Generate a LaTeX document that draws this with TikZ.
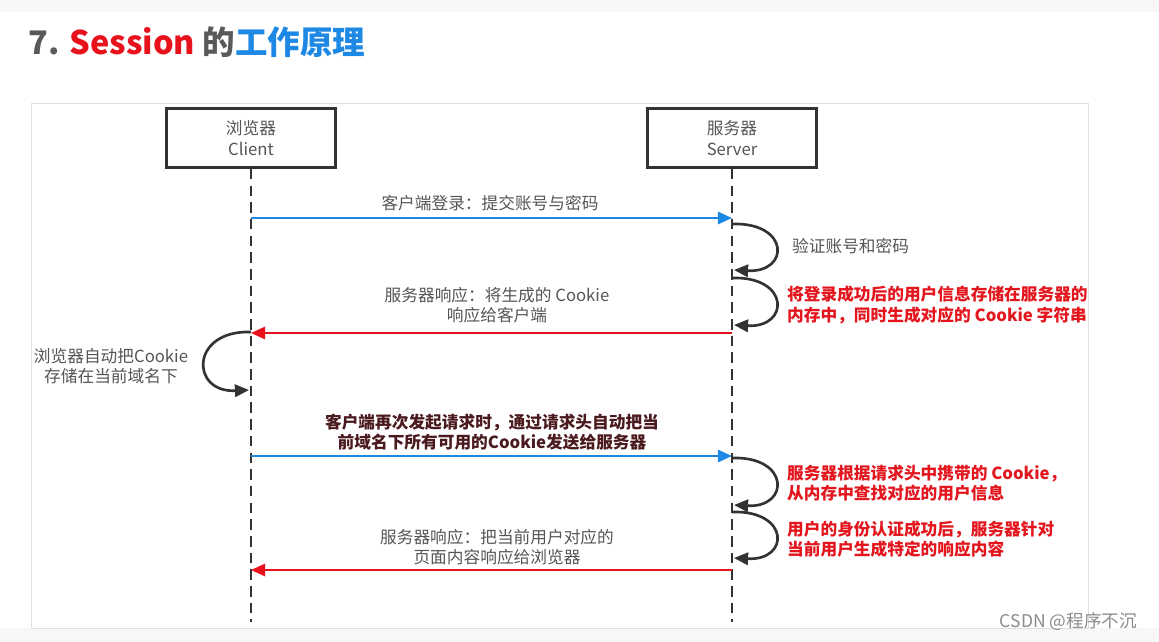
\documentclass[tikz,border=0pt]{standalone}
\usepackage{fontspec}
\setmainfont{Noto Sans CJK SC}
\usetikzlibrary{arrows.meta,positioning,calc}
\definecolor{txtgray}{HTML}{555555}
\definecolor{msgblue}{HTML}{1E88E5}
\definecolor{msgred}{HTML}{E8121C}
\definecolor{notered}{HTML}{E3161E}
\definecolor{darkbrown}{HTML}{4A1A1E}
\definecolor{titlegray}{HTML}{595959}

\begin{document}
\begin{tikzpicture}[x=0.02cm, y=-0.02cm,
    every node/.style={font=\fontsize{9.5}{11.5}\selectfont, text=txtgray},
    actor/.style={draw=black!80, line width=1.5pt, minimum width=3.38cm, minimum height=1.18cm, align=center, fill=white},
    lifeline/.style={line width=1.2pt, black!80, dash pattern=on 6pt off 3.5pt},
    call/.style={line width=1.2pt, msgblue, -{Triangle[length=8pt,width=7pt]}},
    reply/.style={line width=1.2pt, msgred, -{Triangle[length=8pt,width=7pt]}},
    loopback/.style={line width=1.5pt, black!80, -{Triangle[length=8pt,width=7pt]}},
    msg/.style={align=center},
    note/.style={align=left, anchor=west, text=notered, font=\bfseries\fontsize{9.5}{11.5}\selectfont}
  ]
  % Rahmen
  \useasboundingbox (0,0) rectangle (1159,642);
  \fill[black!3] (0,0) rectangle (1159,642);
  \fill[white] (0,12) rectangle (1159,628);
  \draw[black!12, fill=white] (31,103) rectangle (1088,628);

  % Titel
  \node[anchor=west, font=\bfseries\fontsize{18.5}{20}\selectfont] (title) at (22,42)
    {\textcolor{titlegray}{7.} \textcolor{msgred}{Session} \textcolor{titlegray}{的}\textcolor{msgblue}{工作原理}};

  % Teilnehmer
  \node[actor] (client) at (251,138) {浏览器\\Client};
  \node[actor] (server) at (732,138) {服务器\\Server};
  \coordinate (client-end) at (251,622);
  \coordinate (server-end) at (732,622);
  \draw[lifeline] (client.south) -- (client-end);
  \draw[lifeline] (server.south) -- (server-end);

  % Punkte auf den Lebenslinien
  \coordinate (c1) at (251,218);  \coordinate (s1) at (732,218);
  \coordinate (c2) at (251,333);  \coordinate (s2) at (732,333);
  \coordinate (c3) at (251,456);  \coordinate (s3) at (732,456);
  \coordinate (c4) at (251,570);  \coordinate (s4) at (732,570);

  % Nachrichten
  \draw[call] (c1) -- (s1);
  \node[msg] (m1) at (490,203) {客户端登录：提交账号与密码};

  \draw[reply] (s2) -- (c2);
  \node[msg] (m2) at (497,305) {服务器响应：将生成的 Cookie\\响应给客户端};

  \draw[call] (c3) -- (s3);
  \node[msg, text=darkbrown, font=\bfseries\fontsize{9.5}{11.5}\selectfont] (m3) at (492,432)
    {客户端再次发起请求时，通过请求头自动把当\\前域名下所有可用的Cookie发送给服务器};

  \draw[reply] (s4) -- (c4);
  \node[msg] (m4) at (497,547) {服务器响应：把当前用户对应的\\页面内容响应给浏览器};

  % Selbstaufrufe Server
  \foreach \ya/\yb [count=\i] in {224/270, 278/325, 458/505, 512/558} {
    \coordinate (sa\i) at (732,\ya);
    \coordinate (sb\i) at (734,\yb);
    \draw[loopback] (sa\i) .. controls (790,\ya-2) and (790,\yb+3) .. (sb\i);
  }
  \node[anchor=west] (n1) at (786,246) {验证账号和密码};
  \node[note] (n2) at (781,305) {将登录成功后的用户信息存储在服务器的\\内存中，同时生成对应的 Cookie 字符串};
  \node[note] (n3) at (781,483) {服务器根据请求头中携带的 Cookie，\\从内存中查找对应的用户信息};
  \node[note] (n4) at (781,539) {用户的身份认证成功后，服务器针对\\当前用户生成特定的响应内容};

  % Selbstaufruf Client
  \coordinate (ca) at (251,332);
  \coordinate (cb) at (249,390);
  \draw[loopback] (ca) .. controls (190,330) and (190,393) .. (cb);
  \node[msg] (n5) at (111,366) {浏览器自动把Cookie\\存储在当前域名下};

  % Wasserzeichen
  \node[anchor=east, text=black!45, font=\fontsize{10}{12}\selectfont] (mark) at (1143,622) {CSDN @程序不沉};
\end{tikzpicture}
\end{document}
